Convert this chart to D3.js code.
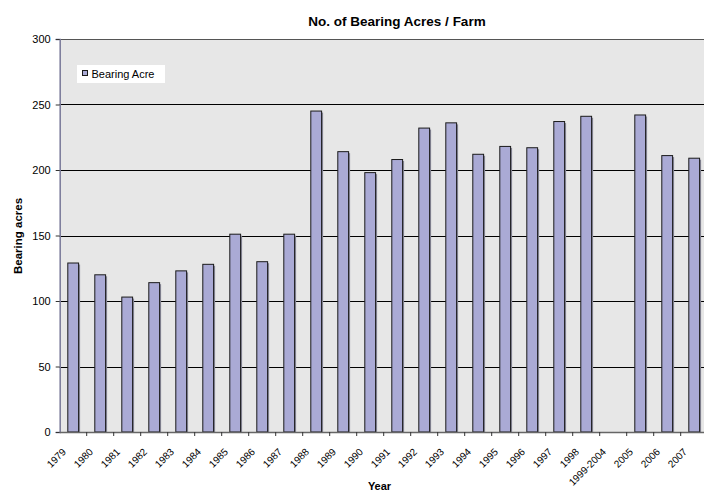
<!DOCTYPE html>
<html>
<head>
<meta charset="utf-8">
<script src="https://cdn.jsdelivr.net/npm/d3@7"></script>
<style>
  body { margin: 0; background: #ffffff; }
  svg { display: block; font-family: Arial, "Liberation Sans", sans-serif; }
</style>
</head>
<body>
<svg id="chart" width="704" height="491"></svg>
<script>
// Number of bearing acres per farm, by year
const years = ["1979","1980","1981","1982","1983","1984","1985","1986","1987","1988",
               "1989","1990","1991","1992","1993","1994","1995","1996","1997","1998",
               "1999-2004","2005","2006","2007"];
const bearingAcres = [129,120,103,114,123,128,151,130,151,245,
                      214,198,208,232,236,212,218,217,237,241,
                      null,242,211,209];
const yTicks = [0, 50, 100, 150, 200, 250, 300];
const seriesName = "Bearing Acre";

const svg = d3.select("#chart");
const plot = { left: 59.7, right: 707.7, top: 39, bottom: 432 };

// category slots (no padding) and bars inside them
const xSlot = d3.scaleBand().domain(years).range([plot.left, plot.right]).padding(0);
const x = d3.scaleBand().domain(years).range([plot.left, plot.right])
  .paddingInner(0.6).paddingOuter(0.3);
const y = d3.scaleLinear().domain([0, 300]).range([plot.bottom, plot.top]);

// plot area background
svg.append("rect")
  .attr("x", plot.left).attr("y", plot.top)
  .attr("width", plot.right - plot.left).attr("height", plot.bottom - plot.top)
  .attr("fill", "#e7e7e7");

// horizontal gridlines
svg.append("g").selectAll("line")
  .data(yTicks.filter(t => t > 0))
  .join("line")
  .attr("x1", plot.left).attr("x2", plot.right)
  .attr("y1", d => Math.round(y(d)) + 0.5).attr("y2", d => Math.round(y(d)) + 0.5)
  .attr("stroke", d => d === 300 ? "#555" : "#000")
  .attr("stroke-width", 1);

// bars with a soft drop shadow
const barData = years.map((yr, i) => ({ yr, v: bearingAcres[i] })).filter(d => d.v != null);
const bars = svg.append("g");
bars.selectAll("rect.shadow")
  .data(barData)
  .join("rect")
  .attr("class", "shadow")
  .attr("x", d => x(d.yr) + 1.5)
  .attr("y", d => y(d.v) + 1.5)
  .attr("width", x.bandwidth())
  .attr("height", d => y(0) - y(d.v) - 1.5)
  .attr("fill", "#8a8a9a");
bars.selectAll("rect.bar")
  .data(barData)
  .join("rect")
  .attr("class", "bar")
  .attr("x", d => x(d.yr))
  .attr("y", d => y(d.v))
  .attr("width", x.bandwidth())
  .attr("height", d => y(0) - y(d.v))
  .attr("fill", "#aaaad5")
  .attr("stroke", "#1a1a1a")
  .attr("stroke-width", 1);

// y axis
const yAxis = svg.append("g")
  .attr("transform", `translate(${plot.left},0)`)
  .call(d3.axisLeft(y).tickValues(yTicks).tickSize(4).tickPadding(5));
yAxis.select(".domain").attr("stroke", "#7a7a9a").attr("stroke-width", 1.5);
yAxis.selectAll(".tick line").attr("stroke", "#333");
yAxis.selectAll(".tick text")
  .attr("font-size", 11).attr("fill", "#000")
  .attr("font-family", "Arial, 'Liberation Sans', sans-serif");

// x axis line and category boundary ticks
svg.append("line")
  .attr("x1", plot.left).attr("x2", plot.right)
  .attr("y1", plot.bottom + 0.5).attr("y2", plot.bottom + 0.5)
  .attr("stroke", "#666").attr("stroke-width", 1.5);
svg.append("g").selectAll("line")
  .data(years.slice(1).concat(["__end"]))
  .join("line")
  .attr("x1", d => d === "__end" ? plot.right : xSlot(d))
  .attr("x2", d => d === "__end" ? plot.right : xSlot(d))
  .attr("y1", plot.bottom).attr("y2", plot.bottom + 4)
  .attr("stroke", "#333");

// rotated category labels
svg.append("g").selectAll("text")
  .data(years)
  .join("text")
  .attr("transform", d => `translate(${xSlot(d) + xSlot.bandwidth() / 2 - 6.5},452.5) rotate(-45)`)
  .attr("text-anchor", "end")
  .attr("font-size", 10)
  .attr("fill", "#000")
  .text(d => d);

// titles
svg.append("text")
  .attr("x", 397).attr("y", 25.5)
  .attr("text-anchor", "middle")
  .attr("font-size", 13.5).attr("font-weight", "bold")
  .text("No. of Bearing Acres / Farm");
svg.append("text")
  .attr("transform", "translate(21.5,236) rotate(-90)")
  .attr("text-anchor", "middle")
  .attr("font-size", 11.5).attr("font-weight", "bold")
  .text("Bearing acres");
svg.append("text")
  .attr("x", 379.5).attr("y", 490)
  .attr("text-anchor", "middle")
  .attr("font-size", 11).attr("font-weight", "bold")
  .text("Year");

// legend
const legend = svg.append("g");
legend.append("rect")
  .attr("x", 77).attr("y", 65).attr("width", 88).attr("height", 18)
  .attr("fill", "#ffffff");
legend.append("rect")
  .attr("x", 82.5).attr("y", 70.5).attr("width", 5).attr("height", 5)
  .attr("fill", "#aaaad5").attr("stroke", "#1a1a1a");
legend.append("text")
  .attr("x", 91.5).attr("y", 77.5)
  .attr("font-size", 11)
  .text(seriesName);
</script>
</body>
</html>
